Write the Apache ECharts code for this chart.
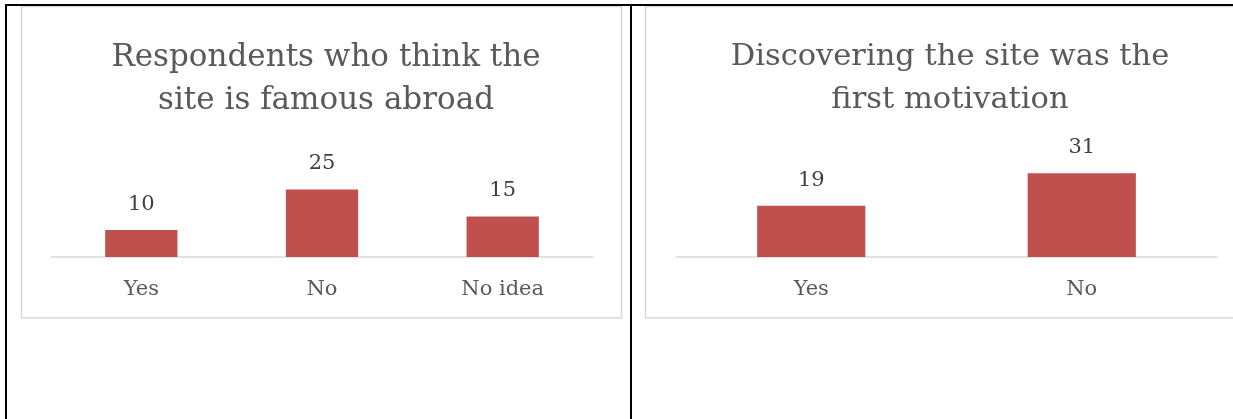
<!DOCTYPE html>
<html><head><meta charset="utf-8">
<script src="https://cdn.jsdelivr.net/npm/echarts@6/dist/echarts.min.js"></script>
<style>html,body{margin:0;padding:0;background:#fff}#c{width:1233px;height:419px}</style>
</head><body><div id="c"></div>
<script>
const titleLeft = 'Respondents who think the\nsite is famous abroad';
const categoriesLeft = ['Yes', 'No', 'No idea'];
const valuesLeft = [10, 25, 15];
const titleRight = 'Discovering the site was the\nfirst motivation';
const categoriesRight = ['Yes', 'No'];
const valuesRight = [19, 31];

const FONT = 'DejaVu Serif';
const chart = echarts.init(document.getElementById('c'), null, {renderer: 'canvas'});

function xAx(idx, cats) {
  return {
    type: 'category', gridIndex: idx, data: cats,
    axisLine: {lineStyle: {color: '#d9d9d9', width: 1.5}},
    axisTick: {show: false},
    axisLabel: {color: '#595959', fontFamily: FONT, fontSize: 21, margin: 22}
  };
}
function yAx(idx, max) {
  return {type: 'value', gridIndex: idx, min: 0, max: max, show: false, splitLine: {show: false}};
}
function ser(idx, vals) {
  return {
    type: 'bar', xAxisIndex: idx, yAxisIndex: idx, data: vals,
    barCategoryGap: '60%',
    itemStyle: {color: '#C0504D'},
    label: {show: true, position: 'top', distance: 15, color: '#404040', fontFamily: FONT, fontSize: 21}
  };
}

chart.setOption({
  animation: false,
  title: [
    {text: titleLeft, left: 321, top: 31, textAlign: 'center',
     textStyle: {color: '#595959', fontFamily: FONT, fontWeight: 'normal', fontSize: 31, lineHeight: 43}},
    {text: titleRight, left: 945, top: 31, textAlign: 'center',
     textStyle: {color: '#595959', fontFamily: FONT, fontWeight: 'normal', fontSize: 30.5, lineHeight: 43}}
  ],
  grid: [
    {left: 51, width: 542, top: 176, height: 81},
    {left: 676, width: 541, top: 162.5, height: 94.5}
  ],
  xAxis: [xAx(0, categoriesLeft), xAx(1, categoriesRight)],
  yAxis: [yAx(0, 30), yAx(1, 35)],
  series: [ser(0, valuesLeft), ser(1, valuesRight)],
  graphic: [
    {type: 'rect', shape: {x: 21.5, y: 6.5, width: 600, height: 311.5}, style: {fill: 'none', stroke: '#d9d9d9', lineWidth: 1.5}, z: 0},
    {type: 'rect', shape: {x: 645.5, y: 6.5, width: 620, height: 311.5}, style: {fill: 'none', stroke: '#d9d9d9', lineWidth: 1.5}, z: 0},
    {type: 'line', shape: {x1: 5, y1: 5, x2: 1233, y2: 5}, style: {stroke: '#000', lineWidth: 2}, z: 10},
    {type: 'line', shape: {x1: 6, y1: 4, x2: 6, y2: 419}, style: {stroke: '#000', lineWidth: 2}, z: 10},
    {type: 'line', shape: {x1: 631, y1: 4, x2: 631, y2: 419}, style: {stroke: '#000', lineWidth: 2}, z: 10}
  ]
});
</script></body></html>
